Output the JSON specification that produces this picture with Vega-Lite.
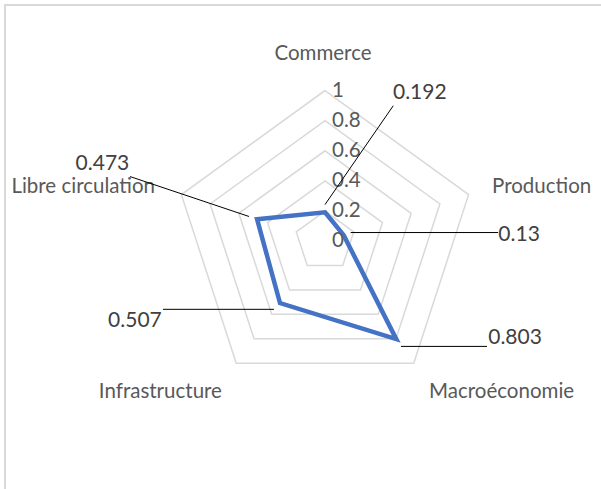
{
  "$schema": "https://vega.github.io/schema/vega-lite/v6.json",
  "width": 601,
  "height": 489,
  "autosize": {"type": "fit", "contains": "padding"},
  "padding": {"left": 5, "top": 5, "right": -3, "bottom": -3},
  "background": "white",
  "config": {"view": {"stroke": "#d9d9d9", "strokeWidth": 2}, "text": {"font": "Lato"}},
  "datasets": {
    "cats": [
      {"cat": "Commerce", "i": 0, "v": 0.192},
      {"cat": "Production", "i": 1, "v": 0.13},
      {"cat": "Macroéconomie", "i": 2, "v": 0.803},
      {"cat": "Infrastructure", "i": 3, "v": 0.507},
      {"cat": "Libre circulation", "i": 4, "v": 0.473}
    ],
    "rings": [
      {"level": 0, "k": [0, 1, 2, 3, 4]},
      {"level": 0.2, "k": [0, 1, 2, 3, 4]},
      {"level": 0.4, "k": [0, 1, 2, 3, 4]},
      {"level": 0.6, "k": [0, 1, 2, 3, 4]},
      {"level": 0.8, "k": [0, 1, 2, 3, 4]},
      {"level": 1, "k": [0, 1, 2, 3, 4]}
    ]
  },
  "data": {"name": "cats"},
  "encoding": {
    "x": {"field": "X", "type": "quantitative", "scale": {"domain": [-2.1192, 1.8477], "nice": false, "zero": false}, "axis": null},
    "y": {"field": "Y", "type": "quantitative", "scale": {"domain": [-1.6642, 1.5675], "nice": false, "zero": false}, "axis": null}
  },
  "layer": [
    {
      "data": {"name": "rings"},
      "transform": [
        {"filter": "datum.level > 0"},
        {"flatten": ["k"]},
        {"calculate": "datum.level * sin(2 * PI * datum.k / 5)", "as": "X"},
        {"calculate": "datum.level * cos(2 * PI * datum.k / 5)", "as": "Y"}
      ],
      "mark": {"type": "line", "interpolate": "linear-closed", "stroke": "#d9d9d9", "strokeWidth": 1.5},
      "encoding": {"detail": {"field": "level", "type": "nominal"}, "order": {"field": "k", "type": "quantitative"}}
    },
    {
      "transform": [
        {"calculate": "datum.v * sin(2 * PI * datum.i / 5)", "as": "X"},
        {"calculate": "datum.v * cos(2 * PI * datum.i / 5)", "as": "Y"}
      ],
      "mark": {"type": "line", "interpolate": "linear-closed", "stroke": "#4472C4", "strokeWidth": 4.5},
      "encoding": {"order": {"field": "i", "type": "quantitative"}}
    },
    {
      "data": {"name": "rings"},
      "transform": [
        {"calculate": "0", "as": "X"},
        {"calculate": "datum.level", "as": "Y"}
      ],
      "mark": {"type": "text", "align": "left", "baseline": "middle", "dx": 7, "fontSize": 20.5, "fill": "#595959"},
      "encoding": {"text": {"field": "level", "type": "nominal"}}
    },
    {
      "transform": [
        {"filter": "datum.i == 0"},
        {"calculate": "1.243 * sin(2 * PI * datum.i / 5)", "as": "X"},
        {"calculate": "1.243 * cos(2 * PI * datum.i / 5)", "as": "Y"}
      ],
      "mark": {"type": "text", "align": "center", "baseline": "middle", "dx": -2, "fontSize": 20.5, "fill": "#595959"},
      "encoding": {"text": {"field": "cat", "type": "nominal"}}
    },
    {
      "transform": [
        {"filter": "datum.i == 1"},
        {"calculate": "1.17 * sin(2 * PI * datum.i / 5)", "as": "X"},
        {"calculate": "1.17 * cos(2 * PI * datum.i / 5)", "as": "Y"}
      ],
      "mark": {"type": "text", "align": "left", "baseline": "middle", "dx": -1, "fontSize": 20.5, "fill": "#595959"},
      "encoding": {"text": {"field": "cat", "type": "nominal"}}
    },
    {
      "transform": [
        {"filter": "datum.i == 2"},
        {"calculate": "1.24 * sin(2 * PI * datum.i / 5)", "as": "X"},
        {"calculate": "1.24 * cos(2 * PI * datum.i / 5)", "as": "Y"}
      ],
      "mark": {"type": "text", "align": "left", "baseline": "middle", "dx": -6, "fontSize": 20.5, "fill": "#595959"},
      "encoding": {"text": {"field": "cat", "type": "nominal"}}
    },
    {
      "transform": [
        {"filter": "datum.i == 3"},
        {"calculate": "1.24 * sin(2 * PI * datum.i / 5)", "as": "X"},
        {"calculate": "1.24 * cos(2 * PI * datum.i / 5)", "as": "Y"}
      ],
      "mark": {"type": "text", "align": "right", "baseline": "middle", "dx": 7, "fontSize": 20.5, "fill": "#595959"},
      "encoding": {"text": {"field": "cat", "type": "nominal"}}
    },
    {
      "transform": [
        {"filter": "datum.i == 4"},
        {"calculate": "1.17 * sin(2 * PI * datum.i / 5)", "as": "X"},
        {"calculate": "1.17 * cos(2 * PI * datum.i / 5)", "as": "Y"}
      ],
      "mark": {"type": "text", "align": "right", "baseline": "middle", "dx": -2, "fontSize": 20.5, "fill": "#595959"},
      "encoding": {"text": {"field": "cat", "type": "nominal"}}
    },
    {
      "transform": [
        {"calculate": "[0, 0.170, 0.503, -0.338, -0.503][datum.i]", "as": "X"},
        {"calculate": "[0.243, 0.0576, -0.698, -0.452, 0.164][datum.i]", "as": "Y"},
        {"calculate": "[0.452, 1.146, 1.073, -1.073, -1.291][datum.i]", "as": "X2"},
        {"calculate": "[0.899, 0.0576, -0.698, -0.452, 0.429][datum.i]", "as": "Y2"}
      ],
      "mark": {"type": "rule", "stroke": "#000000", "strokeWidth": 1},
      "encoding": {"x2": {"field": "X2"}, "y2": {"field": "Y2"}}
    },
    {
      "transform": [
        {"filter": "datum.i <= 2"},
        {"calculate": "[0.450, 1.148, 1.081, -1.081, -1.296][datum.i]", "as": "X"},
        {"calculate": "[0.985, 0.044, -0.640, -0.530, 0.515][datum.i]", "as": "Y"}
      ],
      "mark": {"type": "text", "align": "left", "baseline": "middle", "fontSize": 21, "fill": "#404040"},
      "encoding": {"text": {"field": "v", "type": "nominal"}}
    },
    {
      "transform": [
        {"filter": "datum.i >= 3"},
        {"calculate": "[0.450, 1.148, 1.081, -1.081, -1.296][datum.i]", "as": "X"},
        {"calculate": "[0.985, 0.044, -0.640, -0.530, 0.515][datum.i]", "as": "Y"}
      ],
      "mark": {"type": "text", "align": "right", "baseline": "middle", "fontSize": 21, "fill": "#404040"},
      "encoding": {"text": {"field": "v", "type": "nominal"}}
    }
  ]
}
